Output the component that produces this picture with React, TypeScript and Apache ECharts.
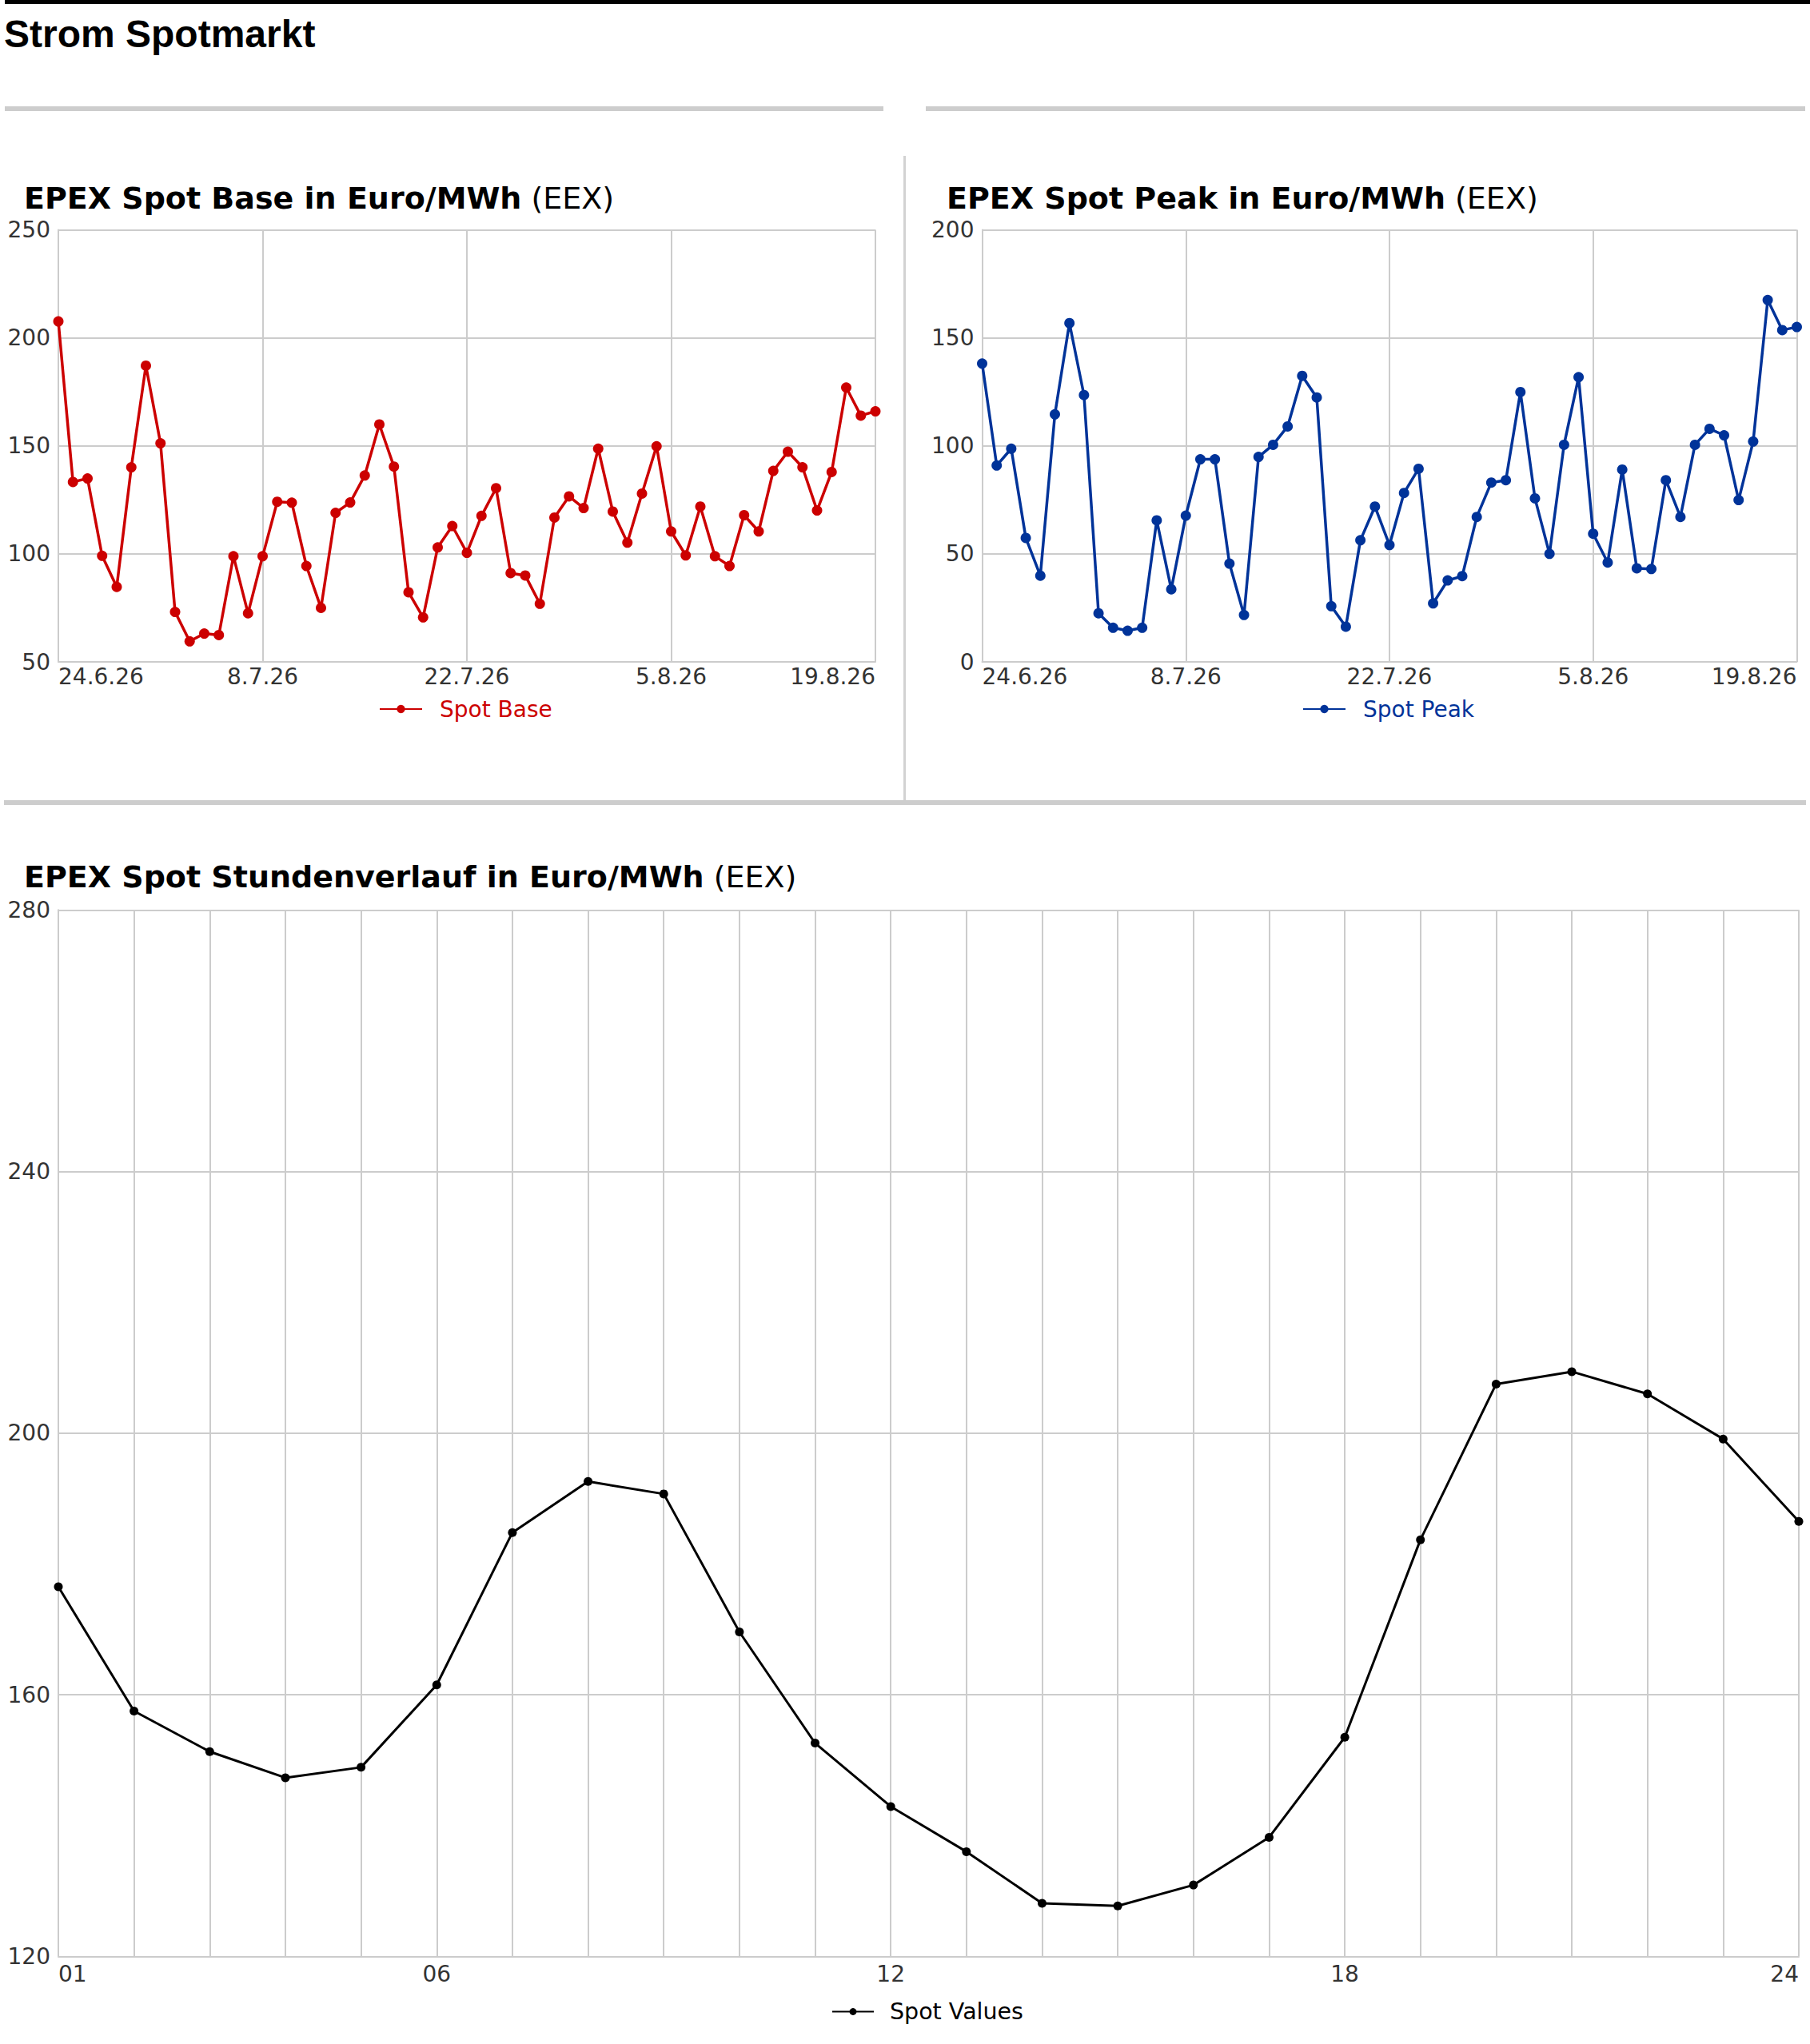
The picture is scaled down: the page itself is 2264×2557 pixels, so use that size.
import React, { useEffect, useRef } from "react";
import * as echarts from "echarts";

const dateLabels = [
  "24.6.26", "25.6.26", "26.6.26", "27.6.26", "28.6.26", "29.6.26", "30.6.26",
  "1.7.26", "2.7.26", "3.7.26", "4.7.26", "5.7.26", "6.7.26", "7.7.26", "8.7.26",
  "9.7.26", "10.7.26", "11.7.26", "12.7.26", "13.7.26", "14.7.26", "15.7.26",
  "16.7.26", "17.7.26", "18.7.26", "19.7.26", "20.7.26", "21.7.26", "22.7.26",
  "23.7.26", "24.7.26", "25.7.26", "26.7.26", "27.7.26", "28.7.26", "29.7.26",
  "30.7.26", "31.7.26", "1.8.26", "2.8.26", "3.8.26", "4.8.26", "5.8.26",
  "6.8.26", "7.8.26", "8.8.26", "9.8.26", "10.8.26", "11.8.26", "12.8.26",
  "13.8.26", "14.8.26", "15.8.26", "16.8.26", "17.8.26", "18.8.26", "19.8.26",
];

const baseValues = [
  207.6, 133.3, 134.9, 99.1, 84.7, 140.1, 187.1, 151.2, 73.1, 59.5,
  63.1, 62.4, 98.9, 72.5, 98.9, 124.1, 123.7, 94.4, 75.0, 119.0,
  123.8, 136.3, 159.9, 140.4, 82.2, 70.6, 103.0, 112.9, 100.5, 117.6,
  130.4, 91.1, 90.0, 76.9, 116.8, 126.6, 121.2, 148.7, 119.6, 105.2,
  127.9, 149.8, 110.4, 99.3, 121.9, 98.9, 94.4, 117.9, 110.4, 138.4,
  147.3, 140.1, 120.1, 137.9, 177.0, 164.0, 166.0,
];

const peakValues = [
  138.1, 90.9, 98.7, 57.4, 39.9, 114.6, 156.8, 123.5, 22.5, 15.8,
  14.4, 15.8, 65.5, 33.6, 67.7, 93.8, 93.8, 45.5, 21.7, 94.9,
  100.5, 109.0, 132.4, 122.4, 25.8, 16.3, 56.3, 71.9, 54.1, 78.2,
  89.4, 27.1, 37.7, 39.7, 67.1, 83.0, 84.1, 124.9, 75.7, 50.0,
  100.5, 131.8, 59.3, 46.0, 89.0, 43.3, 43.0, 84.1, 67.1, 100.5,
  107.9, 104.9, 74.9, 102.0, 167.5, 153.6, 155.0,
];

const hourLabels = [
  "01", "02", "03", "04", "05", "06", "07", "08", "09", "10", "11", "12",
  "13", "14", "15", "16", "17", "18", "19", "20", "21", "22", "23", "24",
];
const hourLabelShown = [0, 5, 11, 17, 23];

const hourValues = [
  176.5, 157.5, 151.3, 147.3, 148.9, 161.5, 184.8, 192.6, 190.7, 169.6, 152.6, 142.9,
  136.0, 128.1, 127.7, 130.9, 138.2, 153.5, 183.7, 207.5, 209.4, 206.0, 199.1, 186.5,
];

const W = 2264;
const H = 2557;
const FONT = "DejaVu Sans";
const GRID_COLOR = "#cccccc";
const LABEL_COLOR = "#333333";
const RED = "#cc0000";
const BLUE = "#003399";
const BLACK = "#000000";

function titleRich(bold: string, normal: string) {
  return {
    text: `{b|${bold}}{n| ${normal}}`,
    textStyle: {
      rich: {
        b: { fontFamily: FONT, fontWeight: "bold", fontSize: 38, color: "#000", lineHeight: 44 },
        n: { fontFamily: FONT, fontWeight: "normal", fontSize: 38, color: "#000", lineHeight: 44 },
      },
    },
  };
}

function dateXAxis(gridIndex: number) {
  return {
    type: "category",
    gridIndex,
    data: dateLabels,
    boundaryGap: false,
    axisLine: { show: true, lineStyle: { color: GRID_COLOR, width: 2 } },
    axisTick: { show: false },
    axisLabel: {
      interval: 13,
      color: LABEL_COLOR,
      fontFamily: FONT,
      fontSize: 28,
      margin: 4,
      alignMinLabel: "left",
      alignMaxLabel: "right",
    },
    splitLine: { show: true, interval: 13, lineStyle: { color: GRID_COLOR, width: 2 } },
  };
}

function valueYAxis(gridIndex: number, min: number, max: number, interval: number) {
  return {
    type: "value",
    gridIndex,
    min,
    max,
    interval,
    axisLine: { show: true, lineStyle: { color: GRID_COLOR, width: 2 } },
    axisTick: { show: false },
    axisLabel: { color: LABEL_COLOR, fontFamily: FONT, fontSize: 28, margin: 10 },
    splitLine: { show: true, lineStyle: { color: GRID_COLOR, width: 2 } },
  };
}

export default function App() {
  const ref = useRef<HTMLDivElement>(null);

  useEffect(() => {
    document.body.style.margin = "0";
    if (!ref.current) return;
    const chart = echarts.init(ref.current, null, { renderer: "svg", width: W, height: H });

    const option: any = {
      animation: false,
      backgroundColor: "#ffffff",
      graphic: [
        { type: "rect", shape: { x: 6, y: 0, width: W - 6, height: 5 }, style: { fill: "#000" } },
        {
          type: "text",
          x: 5,
          y: 42,
          style: {
            text: "Strom Spotmarkt",
            fontFamily: "Liberation Sans",
            fontWeight: "bold",
            fontSize: 48,
            fill: "#000",
            verticalAlign: "middle",
          },
        },
        { type: "rect", shape: { x: 6, y: 133, width: 1099, height: 6 }, style: { fill: "#cdcdcd" } },
        { type: "rect", shape: { x: 1158, y: 133, width: 1100, height: 6 }, style: { fill: "#cdcdcd" } },
        { type: "rect", shape: { x: 1130, y: 195, width: 3, height: 806 }, style: { fill: "#d2d2d2" } },
        { type: "rect", shape: { x: 5, y: 1001, width: 2254, height: 6 }, style: { fill: "#cdcdcd" } },
      ],
      title: [
        { left: 30, top: 226, padding: 0, ...titleRich("EPEX Spot Base in Euro/MWh", "(EEX)") },
        { left: 1184, top: 226, padding: 0, ...titleRich("EPEX Spot Peak in Euro/MWh", "(EEX)") },
        { left: 30, top: 1075, padding: 0, ...titleRich("EPEX Spot Stundenverlauf in Euro/MWh", "(EEX)") },
      ],
      legend: [
        {
          data: ["Spot Base"],
          left: 474,
          top: 873,
          padding: 0,
          itemWidth: 53,
          itemHeight: 13,
          textStyle: { color: RED, fontFamily: FONT, fontSize: 28, padding: [0, 0, 0, 17] },
        },
        {
          data: ["Spot Peak"],
          left: 1629,
          top: 873,
          padding: 0,
          itemWidth: 53,
          itemHeight: 13,
          textStyle: { color: BLUE, fontFamily: FONT, fontSize: 28, padding: [0, 0, 0, 17] },
        },
        {
          data: ["Spot Values"],
          left: 1040,
          top: 2502,
          padding: 0,
          itemWidth: 52,
          itemHeight: 11,
          textStyle: { color: BLACK, fontFamily: FONT, fontSize: 28.5, padding: [0, 0, 0, 15] },
        },
      ],
      grid: [
        { left: 73, top: 287.5, width: 1022, height: 540.5, containLabel: false },
        { left: 1228.5, top: 287.5, width: 1019, height: 540.5, containLabel: false },
        { left: 73, top: 1138.3, width: 2177, height: 1309, containLabel: false },
      ],
      xAxis: [
        dateXAxis(0),
        dateXAxis(1),
        {
          type: "category",
          gridIndex: 2,
          data: hourLabels,
          boundaryGap: false,
          axisLine: { show: true, lineStyle: { color: GRID_COLOR, width: 2 } },
          axisTick: { show: false },
          axisLabel: {
            interval: (index: number) => hourLabelShown.includes(index),
            color: LABEL_COLOR,
            fontFamily: FONT,
            fontSize: 28,
            margin: 8,
            alignMinLabel: "left",
            alignMaxLabel: "right",
          },
          splitLine: { show: true, interval: 0, lineStyle: { color: GRID_COLOR, width: 2 } },
        },
      ],
      yAxis: [
        valueYAxis(0, 50, 250, 50),
        valueYAxis(1, 0, 200, 50),
        valueYAxis(2, 120, 280, 40),
      ],
      series: [
        {
          name: "Spot Base",
          type: "line",
          xAxisIndex: 0,
          yAxisIndex: 0,
          data: baseValues,
          color: RED,
          symbol: "circle",
          symbolSize: 13,
          showAllSymbol: true,
          lineStyle: { width: 3.5, color: RED },
          itemStyle: { color: RED },
        },
        {
          name: "Spot Peak",
          type: "line",
          xAxisIndex: 1,
          yAxisIndex: 1,
          data: peakValues,
          color: BLUE,
          symbol: "circle",
          symbolSize: 13,
          showAllSymbol: true,
          lineStyle: { width: 3.5, color: BLUE },
          itemStyle: { color: BLUE },
        },
        {
          name: "Spot Values",
          type: "line",
          xAxisIndex: 2,
          yAxisIndex: 2,
          data: hourValues,
          color: BLACK,
          symbol: "circle",
          symbolSize: 11,
          showAllSymbol: true,
          lineStyle: { width: 3, color: BLACK },
          itemStyle: { color: BLACK },
        },
      ],
    };

    chart.setOption(option);
    return () => {
      chart.dispose();
    };
  }, []);

  return <div ref={ref} style={{ width: W, height: H }} />;
}
